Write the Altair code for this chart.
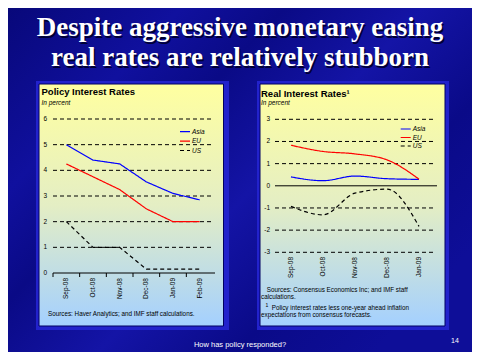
import altair as alt
import pandas as pd

# ---------------- data ----------------
series = ["Asia", "EU", "US"]
series_colors = ["#0000ff", "#ff0000", "#000000"]

months_policy = ["Sep-08", "Oct-08", "Nov-08", "Dec-08", "Jan-09", "Feb-09"]
asia_policy = [5.0, 4.4, 4.25, 3.55, 3.1, 2.85]
eu_policy = [4.25, 3.75, 3.25, 2.5, 2.0, 2.0]
us_policy = [2.0, 1.0, 1.0, 0.15, 0.15, 0.15]
ticks_policy = [0, 1, 2, 3, 4, 5, 6]

months_real = ["Sep-08", "Oct-08", "Nov-08", "Dec-08", "Jan-09"]
asia_real = [0.4, 0.23, 0.44, 0.32, 0.29]
eu_real = [1.83, 1.55, 1.44, 1.17, 0.3]
us_real = [-0.93, -1.31, -0.33, -0.15, -1.83]
ticks_real = [-3, -2, -1, 0, 1, 2, 3]

title_lines = ["Despite aggressive monetary easing", "real rates are relatively stubborn"]

# ---------------- helpers ----------------
one = pd.DataFrame({"a": [0]})
SANS = "Liberation Sans"


def long_df(months, cols):
    rows = []
    for s, vals in zip(series, cols):
        for i, (m, v) in enumerate(zip(months, vals)):
            rows.append({"month": m, "value": v, "series": s, "idx": i})
    return pd.DataFrame(rows)


def rect(x, x2, y, y2, **mark):
    return alt.Chart(one).mark_rect(**mark).encode(
        x=alt.value(x), x2=alt.value(x2), y=alt.value(y), y2=alt.value(y2))


def label(text, x, y, **mark):
    return alt.Chart(one).mark_text(text=text, **mark).encode(
        x=alt.value(x), y=alt.value(y))


color_enc = alt.Color("series:N", scale=alt.Scale(domain=series, range=series_colors), legend=None)
dash_enc = alt.StrokeDash("series:N", scale=alt.Scale(domain=series, range=[[1, 0], [1, 0], [4, 3]]), legend=None)


def panel(months, cols, ticks, xr, yr, ydom, label_x, xlab_y, legend_x, legend_y, with_ticks, interp):
    xs = alt.Scale(type="point", domain=months, range=xr, padding=0.5)
    ys = alt.Scale(domain=ydom, range=yr, nice=False, zero=False)
    tdf = pd.DataFrame({"v": ticks, "t": [str(t) for t in ticks]})
    grid = alt.Chart(tdf).transform_filter("datum.v != 0").mark_rule(
        color="black", strokeDash=[4, 3], strokeWidth=1).encode(
        y=alt.Y("v:Q", scale=ys, axis=None), x=alt.value(xr[0]), x2=alt.value(xr[1]))
    zero = alt.Chart(tdf).transform_filter("datum.v == 0").mark_rule(
        color="black", strokeWidth=1).encode(
        y=alt.Y("v:Q", scale=ys, axis=None), x=alt.value(xr[0]), x2=alt.value(xr[1] + 2))
    ylab = alt.Chart(tdf).mark_text(align="right", baseline="middle", fontSize=6.5, font=SANS,
                                    color="black").encode(
        y=alt.Y("v:Q", scale=ys, axis=None), x=alt.value(label_x), text="t:N")
    mdf = pd.DataFrame({"m": months})
    xlab = alt.Chart(mdf).mark_text(angle=270, align="right", baseline="middle", fontSize=6.5,
                                    font=SANS, color="black").encode(
        x=alt.X("m:N", scale=xs, axis=None), y=alt.value(xlab_y), text="m:N")
    df = long_df(months, cols)
    lines = alt.Chart(df).mark_line(strokeWidth=1.2, interpolate=interp).encode(
        x=alt.X("month:N", scale=xs, axis=None),
        y=alt.Y("value:Q", scale=ys, axis=None),
        color=color_enc, strokeDash=dash_enc, order=alt.Order("idx:Q"))
    ldf = pd.DataFrame({"series": series})
    lys = alt.Scale(type="point", domain=series, range=legend_y, padding=0)
    leg_lines = alt.Chart(ldf).mark_rule(strokeWidth=1.2).encode(
        y=alt.Y("series:N", scale=lys, axis=None),
        x=alt.value(legend_x), x2=alt.value(legend_x + 10),
        color=color_enc, strokeDash=dash_enc)
    leg_text = alt.Chart(ldf).mark_text(align="left", baseline="middle", fontSize=6.5, font=SANS,
                                        fontStyle="italic", color="black").encode(
        y=alt.Y("series:N", scale=lys, axis=None), x=alt.value(legend_x + 12), text="series:N")
    out = [grid, zero, ylab, xlab, lines, leg_lines, leg_text]
    if with_ticks:
        bs = alt.Scale(type="band", domain=months, range=xr, paddingInner=0, paddingOuter=0)
        tk = alt.Chart(mdf).mark_rule(color="black", strokeWidth=1).encode(
            x=alt.X("m:N", scale=bs, axis=None, bandPosition=0),
            y=alt.value(yr[0]), y2=alt.value(yr[0] + 4))
        out.append(tk)
    return out


bg_grad = alt.LinearGradient(
    gradient="linear", x1=0, y1=0, x2=1, y2=0.7,
    stops=[alt.GradientStop(color="#08087a", offset=0),
           alt.GradientStop(color="#10109e", offset=0.25),
           alt.GradientStop(color="#0a0a86", offset=0.4),
           alt.GradientStop(color="#1414a6", offset=0.6),
           alt.GradientStop(color="#0a0a88", offset=0.8),
           alt.GradientStop(color="#0e0e98", offset=1)])

panel_grad = alt.LinearGradient(
    gradient="linear", x1=0, y1=0, x2=0, y2=1,
    stops=[alt.GradientStop(color="#ffffa0", offset=0),
           alt.GradientStop(color="#e4eec4", offset=0.5),
           alt.GradientStop(color="#a4d0ff", offset=1)])

layers = [
    rect(0, 464, 0, 344, fill=bg_grad),
    # left panel frame
    rect(28, 221, 73, 322, fill="#2222cc"),
    rect(31, 215.5, 76, 318, fill=panel_grad, stroke="#000060", strokeWidth=1),
    # right panel frame
    rect(249, 441, 73, 322, fill="#2222cc"),
    rect(252, 437, 76, 318, fill=panel_grad, stroke="#000060", strokeWidth=1),
]

# title with shadow
for t, yb in zip(title_lines, [28, 58]):
    layers.append(label(t, 233.5, yb + 1.5, align="center", baseline="alphabetic", font="Liberation Serif",
                        fontWeight="bold", fontSize=27, color="#000033"))
    layers.append(label(t, 232, yb, align="center", baseline="alphabetic", font="Liberation Serif",
                        fontWeight="bold", fontSize=27, color="white"))

# left panel texts
layers += [
    label("Policy Interest Rates", 33.5, 87.3, align="left", baseline="alphabetic", font=SANS,
          fontWeight="bold", fontSize=9.5, color="black"),
    label("In percent", 33.5, 96.7, align="left", baseline="alphabetic", font=SANS,
          fontStyle="italic", fontSize=6.5, color="black"),
    label("Sources: Haver Analytics; and IMF staff calculations.", 40, 306.3, align="left",
          baseline="middle", font=SANS, fontSize=6.3, color="black"),
]
layers += panel(months_policy, [asia_policy, eu_policy, us_policy], ticks_policy,
                [45, 205], [265, 111], [0, 6], 39, 270, 172, [123.7, 142.5], True, "linear")

# right panel texts
layers += [
    label("Real Interest Rates\u00b9", 253, 88.7, align="left", baseline="alphabetic", font=SANS,
          fontWeight="bold", fontSize=9.5, color="black"),
    label("In percent", 253, 97, align="left", baseline="alphabetic", font=SANS,
          fontStyle="italic", fontSize=6.5, color="black"),
    label("Sources: Consensus Economics Inc; and IMF staff", 258.7, 282, align="left",
          baseline="middle", font=SANS, fontSize=6.3, color="black"),
    label("calculations.", 253, 289.3, align="left", baseline="middle", font=SANS,
          fontSize=6.3, color="black"),
    label("1", 257.5, 297, align="left", baseline="middle", font=SANS, fontSize=5, color="black"),
    label("Policy interest rates less one-year ahead inflation", 263.7, 299.7, align="left",
          baseline="middle", font=SANS, fontSize=6.3, color="black"),
    label("expectations from consensus forecasts.", 253, 307, align="left", baseline="middle",
          font=SANS, fontSize=6.3, color="black"),
]
layers += panel(months_real, [asia_real, eu_real, us_real], ticks_real,
                [267, 427], [244.3, 111.3], [-3, 3], 262, 249, 392.7, [121, 138], False, "monotone")

# footer
layers += [
    label("How has policy responded?", 232, 337, align="center", baseline="middle", font=SANS,
          fontSize=7.5, color="white"),
    label("14", 447, 333, align="center", baseline="middle", font=SANS, fontSize=7, color="white"),
]

chart = alt.layer(*layers).resolve_scale(
    x="independent", y="independent", color="shared", strokeDash="shared"
).properties(
    width=464, height=344, padding=0,
    autosize=alt.AutoSizeParams(type="none"),
    background="#0a0a8a",
).configure_view(stroke=None)

chart.save("out.html", embed_options={"renderer": "svg", "actions": False})
